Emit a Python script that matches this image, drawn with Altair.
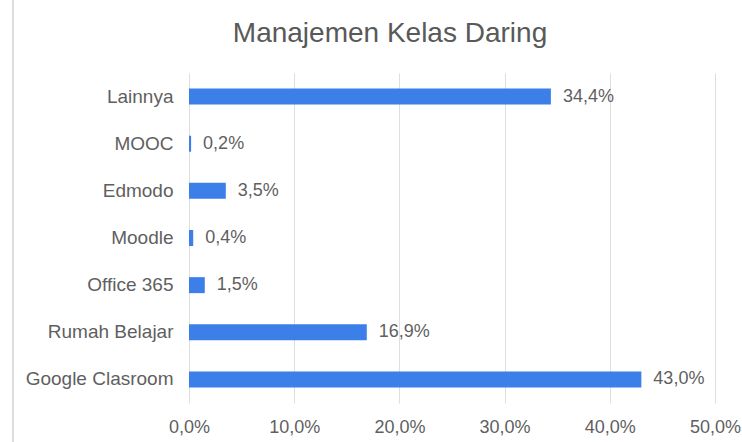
import altair as alt
import pandas as pd

categories = ["Lainnya", "MOOC", "Edmodo", "Moodle", "Office 365", "Rumah Belajar", "Google Clasroom"]
values = [34.4, 0.2, 3.5, 0.4, 1.5, 16.9, 43.0]
tick_values = [0, 10, 20, 30, 40, 50]
title_text = ["Manajemen Kelas Daring"]

df = pd.DataFrame({
    "cat": categories,
    "val": values,
    "lbl": [f"{v:.1f}".replace(".", ",") + "%" for v in values],
})

FONT = "Liberation Sans"
TXT = "#5f5f5f"

x_enc = alt.X("val:Q", scale=alt.Scale(domain=[0, 50], nice=False),
              axis=alt.Axis(values=tick_values, title=None, domain=False, ticks=False,
                            grid=True, gridColor="#dedede", gridWidth=1, labelFlush=False,
                            labelExpr="replace(format(datum.value, '.1f'), '.', ',') + '%'",
                            labelFont=FONT, labelFontSize=18, labelColor=TXT, labelPadding=15))
y_enc = alt.Y("cat:N", sort=categories,
              scale=alt.Scale(paddingInner=0.66, paddingOuter=0.33),
              axis=alt.Axis(title=None, domain=False, ticks=False, grid=False,
                            labelFont=FONT, labelFontSize=19, labelColor=TXT, labelPadding=16))

base = alt.Chart(df)

bars = base.mark_bar(color="#3d7fe9", size=16).encode(x=x_enc, y=y_enc)
labels = base.mark_text(align="left", baseline="middle", dx=12, font=FONT, fontSize=18,
                        color=TXT).encode(x="val:Q", y=alt.Y("cat:N", sort=categories), text="lbl:N")
frame = alt.Chart(df).mark_rule(color="#dddddd", strokeWidth=1.5).encode(
    x=alt.value(-176), y=alt.value(-73), y2=alt.value(369))
title = alt.Chart(pd.DataFrame({"t": title_text})).mark_text(
    font=FONT, fontSize=28, color="#595959", align="center", baseline="alphabetic"
).encode(x=alt.value(201), y=alt.value(-31), text="t:N")

chart = alt.layer(frame, bars, labels, title).properties(
    width=526, height=330,
    autosize=alt.AutoSizeParams(type="none"),
    padding={"left": 189, "top": 73, "right": 27, "bottom": 39},
).configure_view(stroke=None)

chart.save("out.html", embed_options={"renderer": "svg", "actions": False})
